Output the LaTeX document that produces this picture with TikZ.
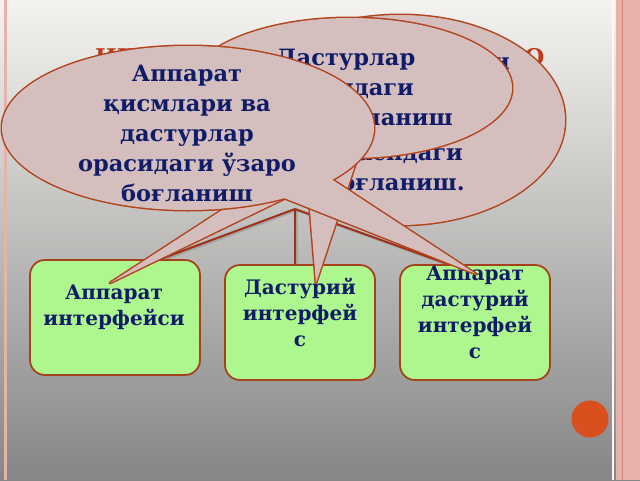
\documentclass[tikz,border=0pt]{standalone}
\usepackage{fontspec}
\setmainfont{DejaVu Serif}
\definecolor{bubfill}{RGB}{212,190,190}
\definecolor{bubline}{RGB}{178,68,30}
\definecolor{boxfill}{RGB}{174,247,142}
\definecolor{boxline}{RGB}{165,66,30}
\definecolor{navy}{RGB}{16,28,104}
\definecolor{titlered}{RGB}{188,60,26}
\definecolor{conn}{RGB}{160,48,26}
\definecolor{bgtop}{RGB}{244,243,239}
\definecolor{bgmid}{RGB}{190,190,190}
\definecolor{bgbot}{RGB}{134,134,134}
\definecolor{framepink}{RGB}{232,178,172}
\definecolor{framedark}{RGB}{214,132,122}
\definecolor{dotorange}{RGB}{217,80,30}
\begin{document}
\begin{tikzpicture}[x=1pt,y=-1pt,
  bubstroke/.style={draw=bubline,line width=3pt,line join=round},
  bubfillst/.style={fill=bubfill},
  bubtext/.style={text=navy,align=center,inner sep=0pt,font=\fontsize{22.5}{30}\selectfont\bfseries},
  boxtext/.style={text=navy,align=center,inner sep=0pt,font=\fontsize{20}{26}\selectfont\bfseries},
  termbox/.style={draw=boxline,fill=boxfill,line width=1.8pt,rounded corners=15pt,inner sep=0pt},
  connector/.style={draw=conn,line width=2pt},
  connshadow/.style={draw=black!45,opacity=0.5,line width=2pt}]
\useasboundingbox (0,0) rectangle (640,480);
% background
\shade[top color=bgtop,middle color=bgmid,bottom color=bgbot] (0,0) rectangle (640,480);
\fill[framepink] (616,0) rectangle (640,480);
\draw[white!90!framepink,line width=1.2pt] (613,0) -- (613,480);
\draw[framedark,line width=1.2pt] (622.5,0) -- (622.5,480);
\draw[framepink,line width=3pt] (5.5,0) -- (5.5,480);
\fill[dotorange] (590,419) circle[radius=18.5pt];
% hidden title
\node[anchor=base west,inner sep=0pt,text=titlered,font=\fontsize{23}{28}\selectfont\bfseries] (title) at (95,65) {ИШЛАШ ЖАРАЁНИДАГИ ЎЗАРО};
% org connectors
\coordinate (hub) at (295,209);
\coordinate (lend) at (150,263);
\coordinate (mend) at (295,266);
\coordinate (rend) at (445,263);
\foreach \e in {lend,mend,rend}{\draw[connshadow] ([shift={(1.5,1.5)}]hub) -- ([shift={(1.5,1.5)}]\e);}
\foreach \e in {lend,mend,rend}{\draw[connector] (hub) -- (\e);}
% boxes
\node[termbox,minimum width=170pt,minimum height=115pt] (lbox) at (115,317.5) {};
\node[termbox,minimum width=150pt,minimum height=115pt] (mbox) at (300,322.5) {};
\node[termbox,minimum width=150pt,minimum height=115pt] (rbox) at (475,322.5) {};
\node[boxtext] (ltext) at (114,307) {Аппарат\\интерфейси};
\node[boxtext] (mtext) at (300,312) {Дастурий\\интерфей\\с};
\node[boxtext] (rtext) at (475,312) {Аппарат\\дастурий\\интерфей\\с};
% bubble A (back) -> left box
\coordinate (tipA) at (110,283);
\path[bubstroke] (400,120) ellipse[x radius=165pt,y radius=105pt];
\path[bubstroke] (276,175) -- (tipA) -- (302,190) -- cycle;
\path[bubfillst] (400,120) ellipse[x radius=165pt,y radius=105pt];
\path[bubfillst] (276,175) -- (tipA) -- (302,190) -- cycle;
\node[bubtext] (atext1) at (386,64) {Аппарат қисмлари};
\node[bubtext] (atext2) at (395,170) {орасидаги\\боғланиш.};
% bubble B (middle) -> middle box
\coordinate (tipB) at (316,283);
\path[bubstroke] (350,88) ellipse[x radius=162pt,y radius=70pt];
\path[bubstroke] (305,150) -- (tipB) -- (360,150) -- cycle;
\path[bubfillst] (350,88) ellipse[x radius=162pt,y radius=70pt];
\path[bubfillst] (305,150) -- (tipB) -- (360,150) -- cycle;
\node[bubtext] (btext) at (346,90) {Дастурлар\\орасидаги\\ўзаро боғланиш};
% bubble C (front) -> right box
\coordinate (tipC) at (476,274);
\path[bubstroke] (188,128) ellipse[x radius=186pt,y radius=82pt];
\path[bubstroke] (264,190) -- (tipC) -- (319,171) -- cycle;
\path[bubfillst] (188,128) ellipse[x radius=186pt,y radius=82pt];
\path[bubfillst] (264,190) -- (tipC) -- (319,171) -- cycle;
\node[bubtext] (ctext) at (187,133) {Аппарат\\қисмлари ва\\дастурлар\\орасидаги ўзаро\\боғланиш};
\end{tikzpicture}
\end{document}
